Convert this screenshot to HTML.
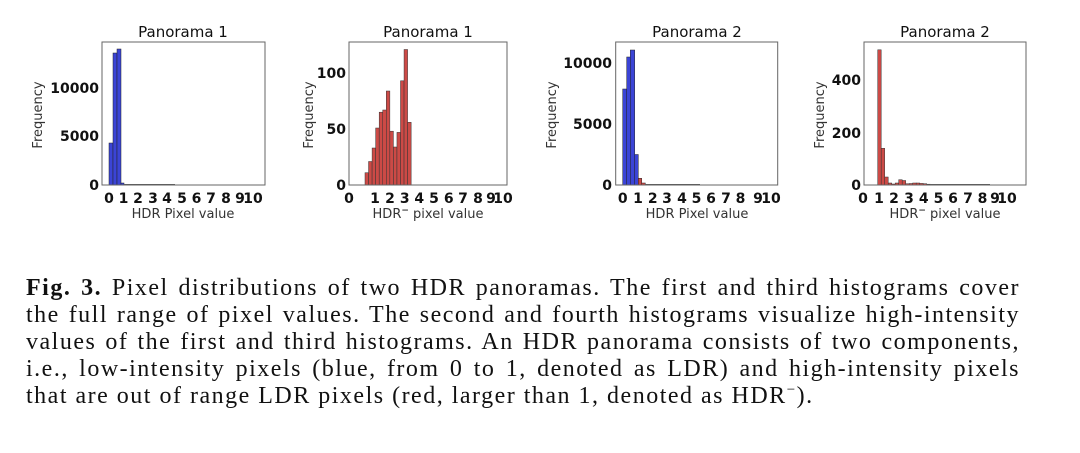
<!DOCTYPE html>
<html><head><meta charset="utf-8"><style>
html,body{margin:0;padding:0;background:#fff;width:1080px;height:453px;overflow:hidden}
.cap{position:absolute;left:26px;width:994px;top:275px;font-family:"Liberation Serif",serif;font-size:24px;letter-spacing:1.5px;line-height:27px;color:#111;text-align:justify;text-align-last:justify}
.cap div{white-space:nowrap;height:27px}
.cap sup{font-size:15px;position:relative;top:-9px;vertical-align:baseline;line-height:0}
svg text{font-family:"DejaVu Sans","Liberation Sans",sans-serif}
</style></head><body>
<svg width="1080" height="250" style="position:absolute;left:0;top:0">
<g fill="#111">
<!-- Chart 1 -->
<text x="183" y="37" font-size="15" text-anchor="middle">Panorama 1</text>
<g fill="#3b44d6" stroke="#222" stroke-width="0.5">
<rect x="109" y="143" width="4" height="42"/>
<rect x="113" y="53" width="4" height="132"/>
<rect x="117" y="49" width="4" height="136"/>
<rect x="121" y="183" width="3" height="2"/>
</g>
<line x1="124" y1="184.5" x2="175" y2="184.5" stroke="#555" stroke-width="1"/>
<rect x="102" y="42" width="163" height="143" fill="none" stroke="#666" stroke-width="1"/>
<g font-size="14" font-weight="bold" text-anchor="end">
<text x="99" y="190">0</text><text x="99" y="141">5000</text><text x="99" y="93">10000</text>
</g>
<g font-size="14" font-weight="bold" text-anchor="middle">
<text x="109" y="203">0</text><text x="123.5" y="203">1</text><text x="138" y="203">2</text><text x="153" y="203">3</text><text x="167" y="203">4</text><text x="182" y="203">5</text><text x="196.5" y="203">6</text><text x="211" y="203">7</text><text x="226" y="203">8</text><text x="240" y="203">9</text><text x="253" y="203">10</text>
</g>
<text x="183" y="218" font-size="13" fill="#333" text-anchor="middle">HDR Pixel value</text>
<text transform="translate(42,115) rotate(-90)" font-size="13" fill="#333" text-anchor="middle">Frequency</text>

<!-- Chart 2 -->
<text x="428" y="37" font-size="15" text-anchor="middle">Panorama 1</text>
<g fill="#cc4a46" stroke="#333" stroke-width="0.5">
<rect x="365" y="172.7" width="3.55" height="12.3"/>
<rect x="368.55" y="161.5" width="3.55" height="23.5"/>
<rect x="372.1" y="148" width="3.55" height="37"/>
<rect x="375.65" y="128" width="3.55" height="57"/>
<rect x="379.2" y="112.2" width="3.55" height="72.8"/>
<rect x="382.75" y="110" width="3.55" height="75"/>
<rect x="386.3" y="91" width="3.55" height="94"/>
<rect x="389.85" y="131.2" width="3.55" height="53.8"/>
<rect x="393.4" y="147" width="3.55" height="38"/>
<rect x="396.95" y="132.4" width="3.55" height="52.6"/>
<rect x="400.5" y="80.8" width="3.55" height="104.2"/>
<rect x="404.05" y="49.5" width="3.55" height="135.5"/>
<rect x="407.6" y="122.3" width="3.55" height="62.7"/>
</g>
<rect x="349" y="42" width="158" height="143" fill="none" stroke="#666" stroke-width="1"/>
<g font-size="14" font-weight="bold" text-anchor="end">
<text x="346" y="190">0</text><text x="346" y="134">50</text><text x="346" y="78">100</text>
</g>
<g font-size="14" font-weight="bold" text-anchor="middle">
<text x="349" y="203">0</text><text x="375" y="203">1</text><text x="390" y="203">2</text><text x="404.7" y="203">3</text><text x="419.3" y="203">4</text><text x="434" y="203">5</text><text x="448.7" y="203">6</text><text x="463" y="203">7</text><text x="478" y="203">8</text><text x="491" y="203">9</text><text x="503" y="203">10</text>
</g>
<text x="428" y="218" font-size="13" fill="#333" text-anchor="middle">HDR<tspan dy="-5" font-size="9" font-weight="bold">−</tspan><tspan dy="5"> pixel value</tspan></text>
<text transform="translate(313,115) rotate(-90)" font-size="13" fill="#333" text-anchor="middle">Frequency</text>

<!-- Chart 3 -->
<text x="697" y="37" font-size="15" text-anchor="middle">Panorama 2</text>
<g stroke="#222" stroke-width="0.5">
<rect x="622.7" y="89" width="4" height="96" fill="#3b44d6"/>
<rect x="626.7" y="57" width="3.6" height="128" fill="#3b44d6"/>
<rect x="630.3" y="50" width="4.4" height="135" fill="#3b44d6"/>
<rect x="634.7" y="154.5" width="3.6" height="30.5" fill="#3b44d6"/>
<rect x="638.3" y="178.3" width="3.4" height="6.7" fill="#cc4a46"/>
<rect x="641.7" y="183" width="3.6" height="2" fill="#cc4a46"/>
</g>
<line x1="645" y1="184.5" x2="700" y2="184.5" stroke="#555" stroke-width="1"/>
<rect x="615.7" y="42" width="162" height="143" fill="none" stroke="#666" stroke-width="1"/>
<g font-size="14" font-weight="bold" text-anchor="end">
<text x="612" y="190">0</text><text x="612" y="129">5000</text><text x="612" y="68">10000</text>
</g>
<g font-size="14" font-weight="bold" text-anchor="middle">
<text x="622.7" y="203">0</text><text x="638" y="203">1</text><text x="652.7" y="203">2</text><text x="667" y="203">3</text><text x="682" y="203">4</text><text x="696.5" y="203">5</text><text x="711" y="203">6</text><text x="726" y="203">7</text><text x="740.5" y="203">8</text><text x="758" y="203">9</text><text x="771" y="203">10</text>
</g>
<text x="697" y="218" font-size="13" fill="#333" text-anchor="middle">HDR Pixel value</text>
<text transform="translate(556,115) rotate(-90)" font-size="13" fill="#333" text-anchor="middle">Frequency</text>

<!-- Chart 4 -->
<text x="945" y="37" font-size="15" text-anchor="middle">Panorama 2</text>
<g fill="#cc4a46" stroke="#333" stroke-width="0.5">
<rect x="877.7" y="49.8" width="3.5" height="135.2"/>
<rect x="881.2" y="148.3" width="3.5" height="36.7"/>
<rect x="884.7" y="177" width="3.5" height="8"/>
<rect x="888.2" y="183" width="3.5" height="2"/>
<rect x="891.7" y="184" width="3.5" height="1"/>
<rect x="895.2" y="183" width="3.5" height="2"/>
<rect x="898.7" y="179.7" width="3.5" height="5.3"/>
<rect x="902.2" y="180.5" width="3.5" height="4.5"/>
<rect x="905.7" y="183.7" width="3.5" height="1.3"/>
<rect x="909.2" y="183.5" width="3.5" height="1.5"/>
<rect x="912.7" y="183" width="3.5" height="2"/>
<rect x="916.2" y="183" width="3.5" height="2"/>
<rect x="919.7" y="183.4" width="3.5" height="1.6"/>
<rect x="923.2" y="183.7" width="3.5" height="1.3"/>
<rect x="926.7" y="184.2" width="3.5" height="0.8"/>
</g>
<line x1="930" y1="184.5" x2="990" y2="184.5" stroke="#555" stroke-width="1"/>
<rect x="864" y="42" width="162" height="143" fill="none" stroke="#666" stroke-width="1"/>
<g font-size="14" font-weight="bold" text-anchor="end">
<text x="861" y="190">0</text><text x="861" y="138">200</text><text x="861" y="85">400</text>
</g>
<g font-size="14" font-weight="bold" text-anchor="middle">
<text x="863" y="203">0</text><text x="879" y="203">1</text><text x="894" y="203">2</text><text x="909" y="203">3</text><text x="923.7" y="203">4</text><text x="938.5" y="203">5</text><text x="953" y="203">6</text><text x="968" y="203">7</text><text x="982.5" y="203">8</text><text x="995" y="203">9</text><text x="1007" y="203">10</text>
</g>
<text x="945" y="218" font-size="13" fill="#333" text-anchor="middle">HDR<tspan dy="-5" font-size="9" font-weight="bold">−</tspan><tspan dy="5"> pixel value</tspan></text>
<text transform="translate(824,115) rotate(-90)" font-size="13" fill="#333" text-anchor="middle">Frequency</text>
</g>
</svg>
<div class="cap">
<div><b>Fig. 3.</b> Pixel distributions of two HDR panoramas. The first and third histograms cover</div>
<div>the full range of pixel values. The second and fourth histograms visualize high-intensity</div>
<div>values of the first and third histograms. An HDR panorama consists of two components,</div>
<div>i.e., low-intensity pixels (blue, from 0 to 1, denoted as LDR) and high-intensity pixels</div>
<div style="text-align-last:left">that are out of range LDR pixels (red, larger than 1, denoted as HDR<sup>−</sup>).</div>
</div>
</body></html>
